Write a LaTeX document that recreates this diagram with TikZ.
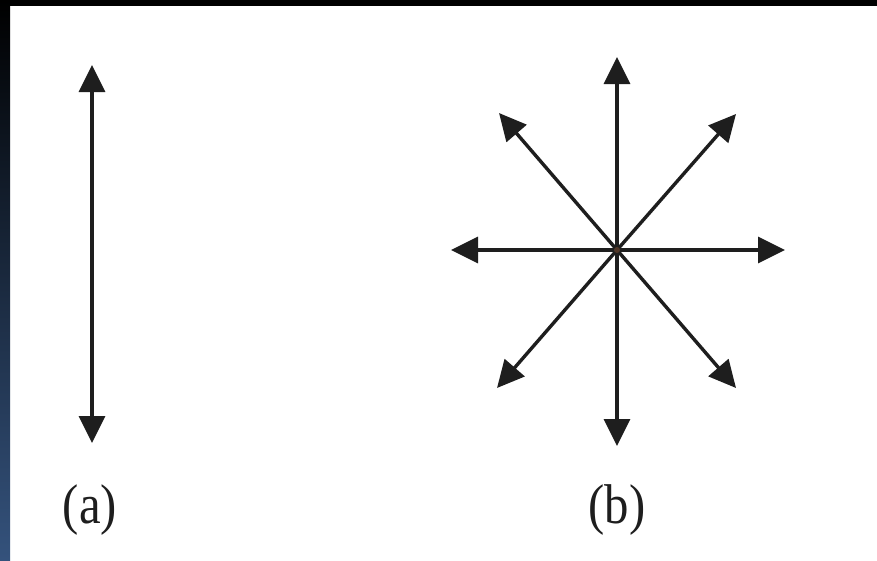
\documentclass[tikz,border=0pt]{standalone}
\usepackage{fontspec}
\setmainfont{Liberation Serif}
\usetikzlibrary{arrows.meta}
\definecolor{ink}{RGB}{30,30,30}
\definecolor{edgeblue}{RGB}{52,82,124}
\definecolor{dotbrown}{RGB}{80,55,40}
\begin{document}
\begin{tikzpicture}[x=1pt,y=-1pt,
  vec/.style={draw=ink,line width=3.4pt,{Triangle[length=27pt,width=26pt]}-{Triangle[length=27pt,width=26pt]}},
  ray/.style={draw=ink,line width=3.4pt,-{Triangle[length=27pt,width=26pt]}},
  lbl/.style={anchor=base,font=\fontsize{56}{60}\selectfont,xscale=0.87,inner sep=0pt,text=ink}]
\useasboundingbox (0,0) rectangle (877,560);
\fill[white] (0,0) rectangle (877,560);
\fill[black] (0,0) rectangle (877,6);
\shade[top color=black,bottom color=edgeblue] (0,0) rectangle (10,560);
% (a)
\coordinate (atop) at (92,65);
\coordinate (abot) at (92,443);
\draw[vec] (abot) -- (atop);
% (b)
\coordinate (c) at (617,250);
\coordinate (up) at (617,57);
\coordinate (dn) at (617,446);
\coordinate (lt) at (451,250);
\coordinate (rt) at (785,250);
\coordinate (ul) at (499,113);
\coordinate (ur) at (736,114);
\coordinate (ll) at (497,388);
\coordinate (lr) at (736,388);
\foreach \t in {up,dn,lt,rt,ul,ur,ll,lr} \draw[ray] (c) -- (\t);
\fill[dotbrown] (c) circle (3);
\node[lbl] (la) at (90,523) {(a)};
\node[lbl] (lb) at (617,523) {(b)};
\end{tikzpicture}
\end{document}
